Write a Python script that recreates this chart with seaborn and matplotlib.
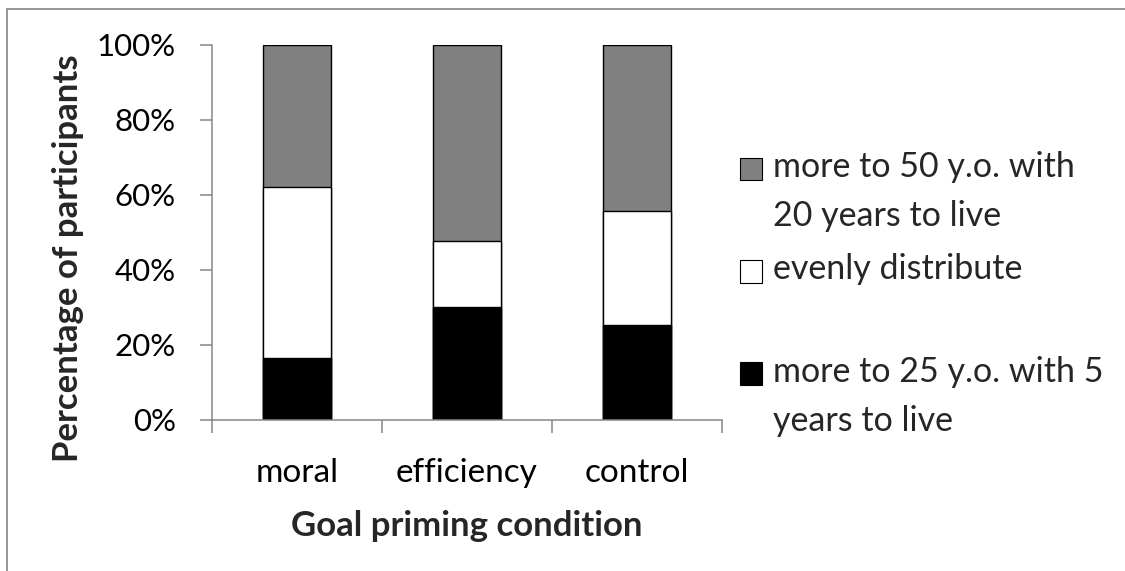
import matplotlib
matplotlib.use("Agg")
import matplotlib.pyplot as plt
import seaborn as sns
import pandas as pd
from matplotlib.patches import Patch, Rectangle
from matplotlib.legend_handler import HandlerPatch
from matplotlib.ticker import PercentFormatter

# ---- data ----
conditions = ["moral", "efficiency", "control"]
share_25yo = [16.3, 30.0, 25.2]   # more to 25 y.o. with 5 years to live
share_even = [45.9, 17.7, 30.5]   # evenly distribute
share_50yo = [37.8, 52.3, 44.3]   # more to 50 y.o. with 20 years to live
legend_labels = ["more to 50 y.o. with\n20 years to live",
                 "evenly distribute\n",
                 "more to 25 y.o. with 5\nyears to live"]
y_ticks = [0, 20, 40, 60, 80, 100]
x_label = "Goal priming condition"
y_label = "Percentage of participants"

# ---- style ----
sns.set_theme(style="white")
plt.rcParams["font.family"] = ["Lato", "DejaVu Sans"]
GREY_AXIS = "#868686"
C_GREY, C_WHITE, C_BLACK = "#808080", "#ffffff", "#000000"

df = pd.DataFrame({"condition": conditions,
                   "young": share_25yo, "even": share_even, "old": share_50yo})
df["cum_even"] = df["young"] + df["even"]
df["cum_all"] = df["cum_even"] + df["old"]

W, H = 1125, 571
fig = plt.figure(figsize=(W / 100, H / 100), dpi=100)
ax = fig.add_axes([212 / W, 1 - 419.5 / H, 510 / W, 374.5 / H])

for col, color in [("cum_all", C_GREY), ("cum_even", C_WHITE), ("young", C_BLACK)]:
    sns.barplot(data=df, x="condition", y=col, order=conditions, color=color,
                saturation=1, edgecolor="black", linewidth=1.0, width=0.4,
                errorbar=None, ax=ax)

ax.set_xlim(-0.5, 2.5)
ax.set_ylim(0, 100)
ax.set_yticks(y_ticks)
ax.yaxis.set_major_formatter(PercentFormatter(decimals=0))
ax.set_xticks([-0.5, 0.5, 1.5, 2.5], minor=True)

for s in ["top", "right"]:
    ax.spines[s].set_visible(False)
for s in ["left", "bottom"]:
    ax.spines[s].set_color(GREY_AXIS)
    ax.spines[s].set_linewidth(1.1)

ax.tick_params(axis="y", which="major", length=9, width=1.1, color=GREY_AXIS,
               labelsize=22.5, pad=17, left=True, labelcolor="black")
ax.tick_params(axis="x", which="major", length=0, labelsize=24, pad=28,
               labelcolor="black")
ax.tick_params(axis="x", which="minor", length=9, width=1.1, color=GREY_AXIS,
               bottom=True)

ax.set_xlabel(x_label, fontsize=25, fontweight="bold")
ax.xaxis.set_label_coords(0.5, -0.242)
ax.set_ylabel(y_label, fontsize=25, fontweight="bold")
ax.yaxis.set_label_coords(-0.25, 0.43)


class FirstLineHandler(HandlerPatch):
    def __init__(self, shift, **kw):
        super().__init__(**kw)
        self.shift = shift

    def create_artists(self, legend, orig_handle, xdescent, ydescent,
                       width, height, fontsize, trans):
        p = Rectangle((-xdescent, -ydescent + self.shift), width, height)
        self.update_prop(p, orig_handle, legend)
        p.set_transform(trans)
        return [p]


handles = [Patch(facecolor=c, edgecolor="black", linewidth=0.8)
           for c in (C_GREY, C_WHITE, C_BLACK)]
handler = FirstLineHandler(shift=17)
leg = fig.legend(handles, legend_labels, loc="upper left",
                 bbox_to_anchor=(740 / W, 1 - 151 / H), frameon=False,
                 fontsize=24.5, handlelength=0.65, handleheight=0.65,
                 handletextpad=0.32, borderpad=0, borderaxespad=0,
                 labelspacing=0.62,
                 handler_map={Patch: handler})
for t in leg.get_texts():
    t.set_linespacing(1.66)

# outer chart frame (cropped: only top and left edges visible)
fig.add_artist(Rectangle((7 / W, -0.2), 1.5, 1.2 - 9 / H, transform=fig.transFigure,
                         fill=False, edgecolor=GREY_AXIS, linewidth=1.2))

fig.savefig("out.png", dpi=100)
